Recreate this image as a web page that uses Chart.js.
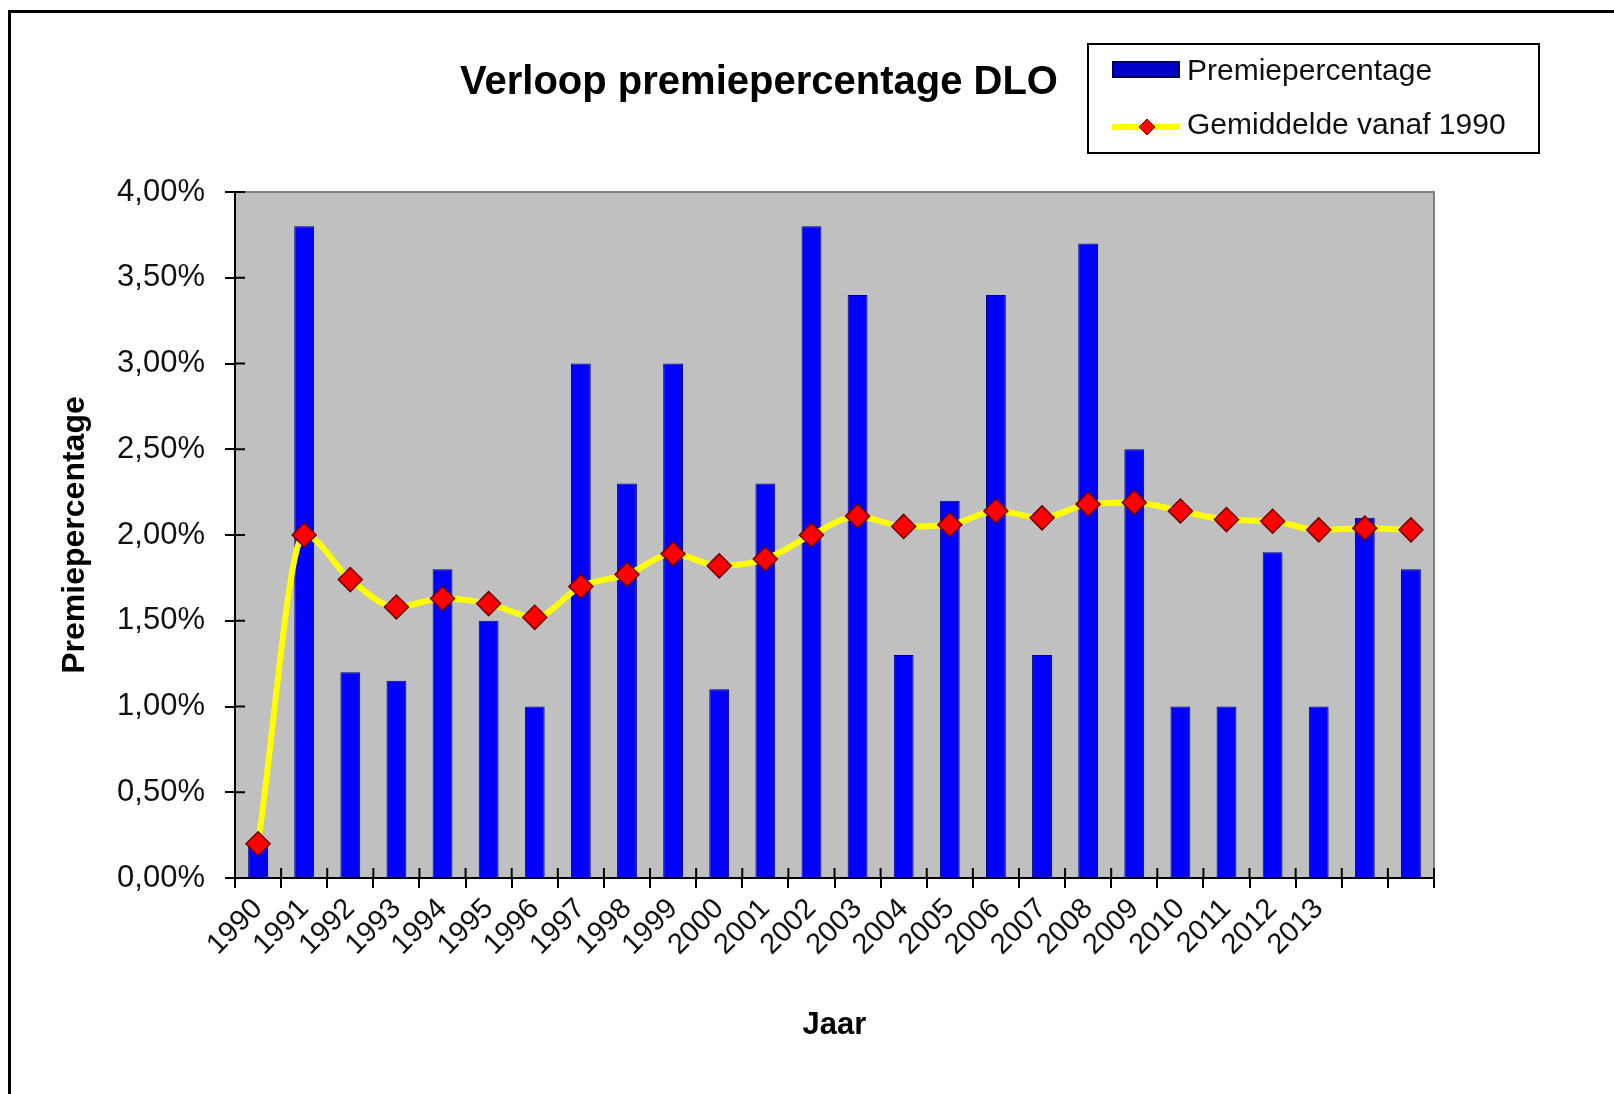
<!DOCTYPE html>
<html>
<head>
<meta charset="utf-8">
<title>Verloop premiepercentage DLO</title>
<script src="https://cdn.jsdelivr.net/npm/chart.js@4.4.1/dist/chart.umd.min.js"></script>
<style>
  body { margin: 0; background: #fff; }
  #wrap { width: 1614px; height: 1094px; }
</style>
</head>
<body>
<div id="wrap"><canvas id="dlo-chart"></canvas></div>
<script>
// jaren op de x-as (de laatste twee kolommen hebben geen label)
const jaren = ["1990", "1991", "1992", "1993", "1994", "1995", "1996", "1997", "1998", "1999",
  "2000", "2001", "2002", "2003", "2004", "2005", "2006", "2007", "2008", "2009",
  "2010", "2011", "2012", "2013", "", ""];

// premiepercentage per jaar (in %)
const premie = [0.2, 3.8, 1.2, 1.15, 1.8, 1.5, 1.0, 3.0, 2.3, 3.0,
  1.1, 2.3, 3.8, 3.4, 1.3, 2.2, 3.4, 1.3, 3.7, 2.5,
  1.0, 1.0, 1.9, 1.0, 2.1, 1.8];

const gemiddelde = [0.2, 2.0, 1.74, 1.58, 1.63, 1.60, 1.52, 1.70, 1.77, 1.89,
  1.82, 1.86, 2.00, 2.11, 2.05, 2.06, 2.14, 2.10, 2.18, 2.19,
  2.14, 2.09, 2.08, 2.03, 2.04, 2.03];

const yLabels = ["0,00%", "0,50%", "1,00%", "1,50%", "2,00%", "2,50%", "3,00%", "3,50%", "4,00%"];

const FONT = "'Liberation Sans', Arial, sans-serif";
Chart.defaults.font.family = FONT;
Chart.defaults.color = "#111";

// achtergrond, kader, titel, legenda en kruisende tickjes
const excelLook = {
  id: "excelLook",
  beforeDraw(chart) {
    const { ctx, chartArea: a } = chart;
    ctx.save();
    ctx.fillStyle = "#fff";
    ctx.fillRect(0, 0, chart.width, chart.height);
    ctx.strokeStyle = "#000";
    ctx.lineWidth = 3;
    ctx.beginPath();
    ctx.moveTo(9.5, chart.height);
    ctx.lineTo(9.5, 11.5);
    ctx.lineTo(chart.width, 11.5);
    ctx.stroke();
    ctx.fillStyle = "#c0c0c0";
    ctx.fillRect(a.left, a.top, a.width, a.height);
    ctx.strokeStyle = "#808080";
    ctx.lineWidth = 2;
    ctx.beginPath();
    ctx.moveTo(a.left, a.top);
    ctx.lineTo(a.right, a.top);
    ctx.lineTo(a.right, a.bottom);
    ctx.stroke();
    ctx.restore();
  },
  afterDraw(chart) {
    const { ctx, chartArea: a } = chart;
    const xs = chart.scales.x, ys = chart.scales.y;
    ctx.save();

    // tickjes naar binnen
    ctx.strokeStyle = "#000";
    ctx.lineWidth = 2;
    ctx.beginPath();
    ys.ticks.forEach((t, i) => {
      const y = ys.getPixelForTick(i);
      ctx.moveTo(a.left, y);
      ctx.lineTo(a.left + 10, y);
    });
    for (let i = 0; i <= jaren.length; i++) {
      const x = xs.getPixelForValue(i - 0.5);
      ctx.moveTo(x, a.bottom);
      ctx.lineTo(x, a.bottom - 10);
    }
    ctx.stroke();

    // titel
    ctx.fillStyle = "#000";
    ctx.font = "bold 40px " + FONT;
    ctx.textAlign = "center";
    ctx.textBaseline = "middle";
    ctx.fillText("Verloop premiepercentage DLO", 759, 83);

    // legenda
    const ds = chart.data.datasets;
    ctx.lineWidth = 2;
    ctx.strokeStyle = "#000";
    ctx.strokeRect(1088, 44, 451, 109);

    ctx.fillStyle = "#0000c8";
    ctx.fillRect(1113, 62, 66, 15);
    ctx.strokeStyle = "#000060";
    ctx.lineWidth = 2;
    ctx.strokeRect(1113, 62, 66, 15);

    ctx.strokeStyle = ds[1].borderColor;
    ctx.lineWidth = 6;
    ctx.beginPath();
    ctx.moveTo(1112, 127);
    ctx.lineTo(1180, 127);
    ctx.stroke();
    ctx.fillStyle = ds[1].pointBackgroundColor;
    ctx.strokeStyle = ds[1].pointBorderColor;
    ctx.lineWidth = 1;
    ctx.beginPath();
    ctx.moveTo(1147, 119);
    ctx.lineTo(1155, 127);
    ctx.lineTo(1147, 135);
    ctx.lineTo(1139, 127);
    ctx.closePath();
    ctx.fill();
    ctx.stroke();

    ctx.fillStyle = "#111";
    ctx.font = "30px " + FONT;
    ctx.textAlign = "left";
    ctx.fillText(ds[0].label, 1187, 72);
    ctx.fillText(ds[1].label, 1187, 126);
    ctx.restore();
  }
};

const ctx = document.getElementById("dlo-chart");
const dloChart = new Chart(ctx, {
  type: "bar",
  data: {
    labels: jaren,
    datasets: [
      {
        label: "Premiepercentage",
        data: premie,
        order: 1,
        backgroundColor: "#0000ff",
        borderColor: "#000080",
        borderWidth: 1,
        categoryPercentage: 1,
        barPercentage: 0.43,
      },
      {
        type: "line",
        label: "Gemiddelde vanaf 1990",
        data: gemiddelde,
        order: 0,
        borderColor: "#ffff00",
        borderWidth: 6,
        cubicInterpolationMode: "monotone",
        pointStyle: "rectRot",
        pointRadius: 12,
        pointBackgroundColor: "#ff0000",
        pointBorderColor: "#700000",
        pointBorderWidth: 1.5,
      },
    ],
  },
  options: {
    responsive: true,
    maintainAspectRatio: false,
    animation: false,
    layout: { padding: { top: 192, right: 180, left: 0, bottom: 0 } },
    plugins: {
      legend: { display: false },
      title: { display: false },
      tooltip: { enabled: false },
    },
    scales: {
      x: {
        afterFit(scale) { scale.height = 216; },
        border: { display: true, color: "#000", width: 2 },
        grid: { offset: true, drawOnChartArea: false, color: "#000", lineWidth: 2, tickLength: 10 },
        ticks: { autoSkip: false, maxRotation: 45, minRotation: 45, padding: 4, font: { size: 29 } },
        title: { display: true, text: "Jaar", font: { size: 31, weight: "bold" }, color: "#000", padding: { top: 0, bottom: 50 } },
      },
      y: {
        min: 0,
        max: 4,
        afterFit(scale) { scale.width = 235; },
        border: { display: true, color: "#000", width: 2 },
        grid: { drawOnChartArea: false, color: "#000", lineWidth: 2, tickLength: 10 },
        ticks: { stepSize: 0.5, padding: 20, font: { size: 31 }, callback: (v, i) => yLabels[i] },
        title: { display: true, text: "Premiepercentage", font: { size: 32, weight: "bold" }, color: "#000", padding: { top: 56, bottom: 0 } },
      },
    },
  },
  plugins: [excelLook],
});
</script>
</body>
</html>
